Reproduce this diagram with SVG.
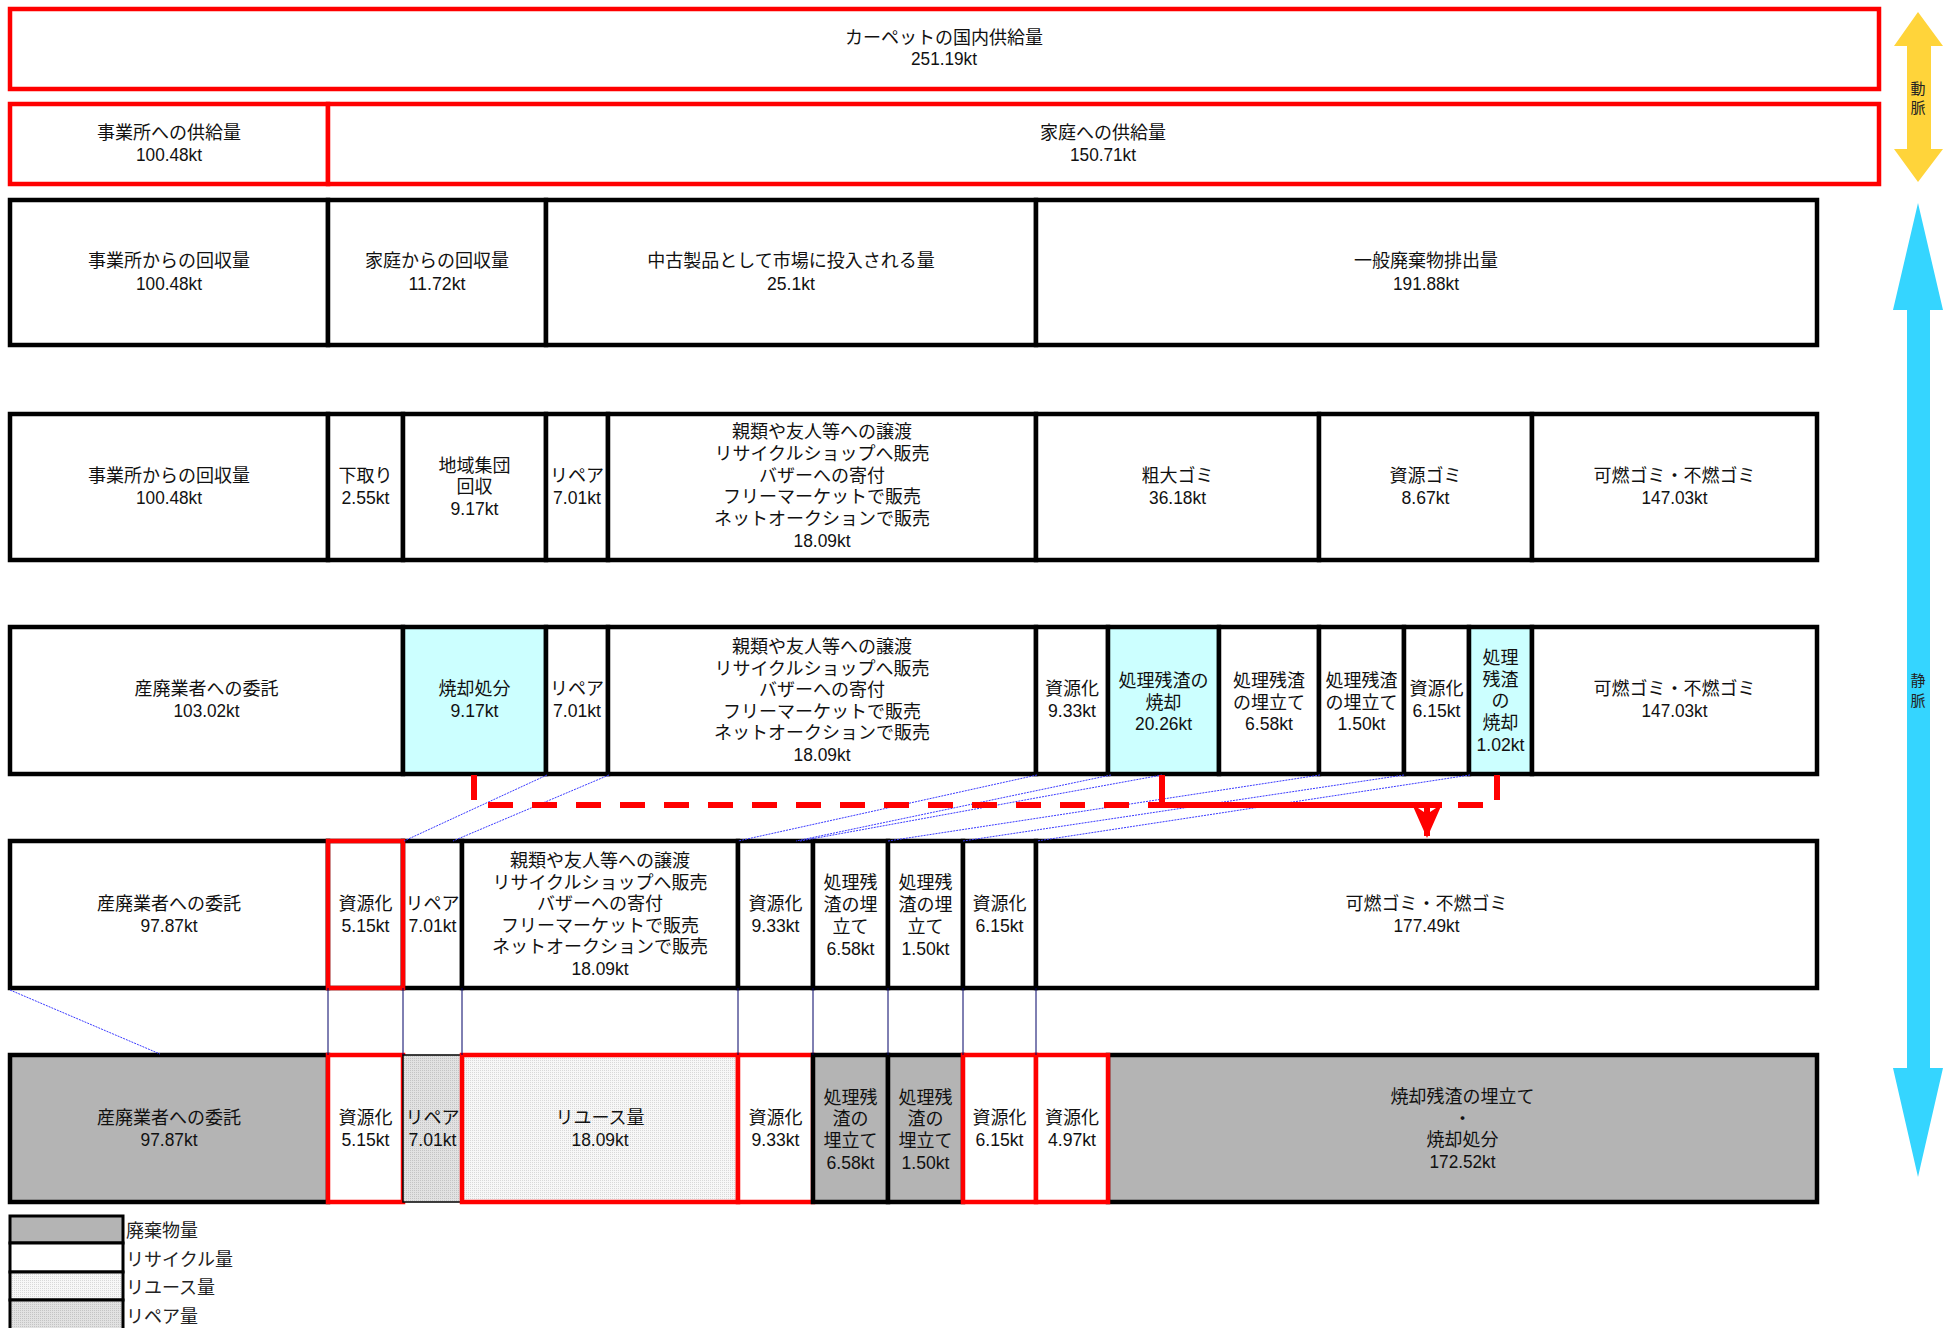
<svg xmlns="http://www.w3.org/2000/svg" width="1955" height="1328" viewBox="0 0 1955 1328">
<style>
.t{font-family:"Liberation Sans","Noto Sans CJK JP","Noto Sans CJK SC",sans-serif;font-size:18px;text-anchor:middle;dominant-baseline:central;fill:#111;transform:translateY(2px)}
.lg{font-family:"Liberation Sans","Noto Sans CJK JP","Noto Sans CJK SC",sans-serif;font-size:18px;dominant-baseline:central;fill:#222;transform:translateY(1px)}
.v{font-family:"Liberation Sans","Noto Sans CJK JP","Noto Sans CJK SC",sans-serif;font-size:15px;text-anchor:middle;dominant-baseline:central;fill:#222}
.b{fill:#fff;stroke:#000;stroke-width:4.5}
.bc{fill:#ccffff;stroke:#000;stroke-width:4.5}
.bg{fill:#b4b4b4;stroke:#000;stroke-width:4.5}
.bu{fill:url(#reuse);stroke:#000;stroke-width:1.5}
.br{fill:url(#repair);stroke:#000;stroke-width:1.5}
.r{fill:#fff;stroke:#ff0000;stroke-width:4.5}
.ro{fill:none;stroke:#ff0000;stroke-width:4.5}
.dot{stroke:#3a3aff;stroke-width:1;stroke-dasharray:2 1;fill:none}
.vl{stroke:#000066;stroke-width:1;fill:none}
.rd{stroke:#ff0000;stroke-width:6;fill:none;stroke-dasharray:25 19}
.rs{stroke:#ff0000;stroke-width:6;fill:none}
</style>
<defs>
<pattern id="reuse" width="2" height="2" patternUnits="userSpaceOnUse"><rect width="2" height="2" fill="#f7f7f7"/><rect width="1" height="1" fill="#d8d8d8"/></pattern>
<pattern id="repair" width="2" height="2" patternUnits="userSpaceOnUse"><rect width="2" height="2" fill="#e2e2e2"/><rect width="1" height="1" fill="#c4c4c4"/></pattern>
<marker id="ah" viewBox="0 0 34 30" refX="32" refY="15" markerWidth="34" markerHeight="30" markerUnits="userSpaceOnUse" orient="auto">
<path d="M0,0 L34,15 L0,30 L10,15 Z" fill="#ff0000"/>
</marker>
</defs>
<rect width="1955" height="1328" fill="#fff"/>

<!-- Row 1 -->
<g id="n-supply-total">
<rect class="r" x="10" y="9" width="1869" height="80"/>
<text class="t" x="944" y="36">カーペットの国内供給量</text>
<text class="t" x="944" y="57" textLength="66" lengthAdjust="spacingAndGlyphs">251.19kt</text>
</g>

<!-- Row 2 -->
<g id="n-supply-office">
<rect class="r" x="10" y="104" width="318" height="80"/>
<text class="t" x="169" y="131">事業所への供給量</text>
<text class="t" x="169" y="153" textLength="66" lengthAdjust="spacingAndGlyphs">100.48kt</text>
</g>
<g id="n-supply-home">
<rect class="r" x="328" y="104" width="1551" height="80"/>
<text class="t" x="1103" y="131">家庭への供給量</text>
<text class="t" x="1103" y="153" textLength="66" lengthAdjust="spacingAndGlyphs">150.71kt</text>
</g>

<!-- Row 3 -->
<g id="n-r3-office">
<rect class="b" x="10" y="200" width="318" height="145"/>
<text class="t" x="169" y="259">事業所からの回収量</text>
<text class="t" x="169" y="282" textLength="66" lengthAdjust="spacingAndGlyphs">100.48kt</text>
</g>
<g id="n-r3-home">
<rect class="b" x="328" y="200" width="218" height="145"/>
<text class="t" x="437" y="259">家庭からの回収量</text>
<text class="t" x="437" y="282" textLength="57" lengthAdjust="spacingAndGlyphs">11.72kt</text>
</g>
<g id="n-r3-used">
<rect class="b" x="546" y="200" width="490" height="145"/>
<text class="t" x="791" y="259">中古製品として市場に投入される量</text>
<text class="t" x="791" y="282" textLength="48" lengthAdjust="spacingAndGlyphs">25.1kt</text>
</g>
<g id="n-r3-general">
<rect class="b" x="1036" y="200" width="781" height="145"/>
<text class="t" x="1426" y="259">一般廃棄物排出量</text>
<text class="t" x="1426" y="282" textLength="66" lengthAdjust="spacingAndGlyphs">191.88kt</text>
</g>

<!-- Row 4 -->
<g id="n-r4-office">
<rect class="b" x="10" y="414" width="318" height="146"/>
<text class="t" x="169" y="474">事業所からの回収量</text>
<text class="t" x="169" y="496" textLength="66" lengthAdjust="spacingAndGlyphs">100.48kt</text>
</g>
<g id="n-r4-tradein">
<rect class="b" x="328" y="414" width="75" height="146"/>
<text class="t" x="365.5" y="474">下取り</text>
<text class="t" x="365.5" y="496" textLength="48" lengthAdjust="spacingAndGlyphs">2.55kt</text>
</g>
<g id="n-r4-community">
<rect class="b" x="403" y="414" width="143" height="146"/>
<text class="t" x="474.5" y="464">地域集団</text>
<text class="t" x="474.5" y="485">回収</text>
<text class="t" x="474.5" y="507" textLength="48" lengthAdjust="spacingAndGlyphs">9.17kt</text>
</g>
<g id="n-r4-repair">
<rect class="b" x="546" y="414" width="62" height="146"/>
<text class="t" x="577" y="474">リペア</text>
<text class="t" x="577" y="496" textLength="48" lengthAdjust="spacingAndGlyphs">7.01kt</text>
</g>
<g id="n-r4-reuse">
<rect class="b" x="608" y="414" width="428" height="146"/>
<text class="t" x="822" y="430">親類や友人等への譲渡</text>
<text class="t" x="822" y="452">リサイクルショップへ販売</text>
<text class="t" x="822" y="474">バザーへの寄付</text>
<text class="t" x="822" y="495">フリーマーケットで販売</text>
<text class="t" x="822" y="517">ネットオークションで販売</text>
<text class="t" x="822" y="539" textLength="57" lengthAdjust="spacingAndGlyphs">18.09kt</text>
</g>
<g id="n-r4-bulky">
<rect class="b" x="1036" y="414" width="283" height="146"/>
<text class="t" x="1177.5" y="474">粗大ゴミ</text>
<text class="t" x="1177.5" y="496" textLength="57" lengthAdjust="spacingAndGlyphs">36.18kt</text>
</g>
<g id="n-r4-resource">
<rect class="b" x="1319" y="414" width="213" height="146"/>
<text class="t" x="1425.5" y="474">資源ゴミ</text>
<text class="t" x="1425.5" y="496" textLength="48" lengthAdjust="spacingAndGlyphs">8.67kt</text>
</g>
<g id="n-r4-burnable">
<rect class="b" x="1532" y="414" width="285" height="146"/>
<text class="t" x="1674.5" y="474">可燃ゴミ・不燃ゴミ</text>
<text class="t" x="1674.5" y="496" textLength="66" lengthAdjust="spacingAndGlyphs">147.03kt</text>
</g>

<!-- Row 5 -->
<g id="n-r5-contract">
<rect class="b" x="10" y="627" width="393" height="147"/>
<text class="t" x="206.5" y="687">産廃業者への委託</text>
<text class="t" x="206.5" y="709" textLength="66" lengthAdjust="spacingAndGlyphs">103.02kt</text>
</g>
<g id="n-r5-incin">
<rect class="bc" x="403" y="627" width="143" height="147"/>
<text class="t" x="474.5" y="687">焼却処分</text>
<text class="t" x="474.5" y="709" textLength="48" lengthAdjust="spacingAndGlyphs">9.17kt</text>
</g>
<g id="n-r5-repair">
<rect class="b" x="546" y="627" width="62" height="147"/>
<text class="t" x="577" y="687">リペア</text>
<text class="t" x="577" y="709" textLength="48" lengthAdjust="spacingAndGlyphs">7.01kt</text>
</g>
<g id="n-r5-reuse">
<rect class="b" x="608" y="627" width="428" height="147"/>
<text class="t" x="822" y="645">親類や友人等への譲渡</text>
<text class="t" x="822" y="667">リサイクルショップへ販売</text>
<text class="t" x="822" y="688">バザーへの寄付</text>
<text class="t" x="822" y="710">フリーマーケットで販売</text>
<text class="t" x="822" y="731">ネットオークションで販売</text>
<text class="t" x="822" y="753" textLength="57" lengthAdjust="spacingAndGlyphs">18.09kt</text>
</g>
<g id="n-r5-res1">
<rect class="b" x="1036" y="627" width="72" height="147"/>
<text class="t" x="1072" y="687">資源化</text>
<text class="t" x="1072" y="709" textLength="48" lengthAdjust="spacingAndGlyphs">9.33kt</text>
</g>
<g id="n-r5-resinc1">
<rect class="bc" x="1108" y="627" width="111" height="147"/>
<text class="t" x="1163.5" y="679">処理残渣の</text>
<text class="t" x="1163.5" y="701">焼却</text>
<text class="t" x="1163.5" y="722" textLength="57" lengthAdjust="spacingAndGlyphs">20.26kt</text>
</g>
<g id="n-r5-land1">
<rect class="b" x="1219" y="627" width="100" height="147"/>
<text class="t" x="1269" y="679">処理残渣</text>
<text class="t" x="1269" y="701">の埋立て</text>
<text class="t" x="1269" y="722" textLength="48" lengthAdjust="spacingAndGlyphs">6.58kt</text>
</g>
<g id="n-r5-land2">
<rect class="b" x="1319" y="627" width="85" height="147"/>
<text class="t" x="1361.5" y="679">処理残渣</text>
<text class="t" x="1361.5" y="701">の埋立て</text>
<text class="t" x="1361.5" y="722" textLength="48" lengthAdjust="spacingAndGlyphs">1.50kt</text>
</g>
<g id="n-r5-res2">
<rect class="b" x="1404" y="627" width="65" height="147"/>
<text class="t" x="1436.5" y="687">資源化</text>
<text class="t" x="1436.5" y="709" textLength="48" lengthAdjust="spacingAndGlyphs">6.15kt</text>
</g>
<g id="n-r5-resinc2">
<rect class="bc" x="1469" y="627" width="63" height="147"/>
<text class="t" x="1500.5" y="656">処理</text>
<text class="t" x="1500.5" y="678">残渣</text>
<text class="t" x="1500.5" y="699">の</text>
<text class="t" x="1500.5" y="721">焼却</text>
<text class="t" x="1500.5" y="743" textLength="48" lengthAdjust="spacingAndGlyphs">1.02kt</text>
</g>
<g id="n-r5-burnable">
<rect class="b" x="1532" y="627" width="285" height="147"/>
<text class="t" x="1674.5" y="687">可燃ゴミ・不燃ゴミ</text>
<text class="t" x="1674.5" y="709" textLength="66" lengthAdjust="spacingAndGlyphs">147.03kt</text>
</g>

<!-- Row 6 -->
<g id="n-r6-contract">
<rect class="b" x="10" y="841" width="318" height="147"/>
<text class="t" x="169" y="902">産廃業者への委託</text>
<text class="t" x="169" y="924" textLength="57" lengthAdjust="spacingAndGlyphs">97.87kt</text>
</g>
<g id="n-r6-res1">
<rect class="b" x="328" y="841" width="75" height="147"/>
<text class="t" x="365.5" y="902">資源化</text>
<text class="t" x="365.5" y="924" textLength="48" lengthAdjust="spacingAndGlyphs">5.15kt</text>
</g>
<g id="n-r6-repair">
<rect class="b" x="403" y="841" width="59" height="147"/>
<text class="t" x="432.5" y="902">リペア</text>
<text class="t" x="432.5" y="924" textLength="48" lengthAdjust="spacingAndGlyphs">7.01kt</text>
</g>
<g id="n-r6-reuse">
<rect class="b" x="462" y="841" width="276" height="147"/>
<text class="t" x="600" y="859">親類や友人等への譲渡</text>
<text class="t" x="600" y="881">リサイクルショップへ販売</text>
<text class="t" x="600" y="902">バザーへの寄付</text>
<text class="t" x="600" y="924">フリーマーケットで販売</text>
<text class="t" x="600" y="945">ネットオークションで販売</text>
<text class="t" x="600" y="967" textLength="57" lengthAdjust="spacingAndGlyphs">18.09kt</text>
</g>
<g id="n-r6-res2">
<rect class="b" x="738" y="841" width="75" height="147"/>
<text class="t" x="775.5" y="902">資源化</text>
<text class="t" x="775.5" y="924" textLength="48" lengthAdjust="spacingAndGlyphs">9.33kt</text>
</g>
<g id="n-r6-land1">
<rect class="b" x="813" y="841" width="75" height="147"/>
<text class="t" x="850.5" y="881">処理残</text>
<text class="t" x="850.5" y="903">渣の埋</text>
<text class="t" x="850.5" y="925">立て</text>
<text class="t" x="850.5" y="947" textLength="48" lengthAdjust="spacingAndGlyphs">6.58kt</text>
</g>
<g id="n-r6-land2">
<rect class="b" x="888" y="841" width="75" height="147"/>
<text class="t" x="925.5" y="881">処理残</text>
<text class="t" x="925.5" y="903">渣の埋</text>
<text class="t" x="925.5" y="925">立て</text>
<text class="t" x="925.5" y="947" textLength="48" lengthAdjust="spacingAndGlyphs">1.50kt</text>
</g>
<g id="n-r6-res3">
<rect class="b" x="963" y="841" width="73" height="147"/>
<text class="t" x="999.5" y="902">資源化</text>
<text class="t" x="999.5" y="924" textLength="48" lengthAdjust="spacingAndGlyphs">6.15kt</text>
</g>
<g id="n-r6-burnable">
<rect class="b" x="1036" y="841" width="781" height="147"/>
<text class="t" x="1426.5" y="902">可燃ゴミ・不燃ゴミ</text>
<text class="t" x="1426.5" y="924" textLength="66" lengthAdjust="spacingAndGlyphs">177.49kt</text>
</g>
<rect class="ro" x="328" y="841" width="75" height="147"/>

<!-- Row 7 -->
<g id="n-r7-contract">
<rect class="bg" x="10" y="1055" width="318" height="147"/>
<text class="t" x="169" y="1116">産廃業者への委託</text>
<text class="t" x="169" y="1138" textLength="57" lengthAdjust="spacingAndGlyphs">97.87kt</text>
</g>
<g id="n-r7-res1">
<rect class="r" x="328" y="1055" width="75" height="147"/>
<text class="t" x="365.5" y="1116">資源化</text>
<text class="t" x="365.5" y="1138" textLength="48" lengthAdjust="spacingAndGlyphs">5.15kt</text>
</g>
<g id="n-r7-repair">
<rect class="br" x="403" y="1055" width="59" height="147"/>
<text class="t" x="432.5" y="1116">リペア</text>
<text class="t" x="432.5" y="1138" textLength="48" lengthAdjust="spacingAndGlyphs">7.01kt</text>
</g>
<g id="n-r7-reuse">
<rect class="bu" x="462" y="1055" width="276" height="147"/>
<rect class="ro" x="462" y="1055" width="276" height="147"/>
<text class="t" x="600" y="1116">リユース量</text>
<text class="t" x="600" y="1138" textLength="57" lengthAdjust="spacingAndGlyphs">18.09kt</text>
</g>
<g id="n-r7-res2">
<rect class="r" x="738" y="1055" width="75" height="147"/>
<text class="t" x="775.5" y="1116">資源化</text>
<text class="t" x="775.5" y="1138" textLength="48" lengthAdjust="spacingAndGlyphs">9.33kt</text>
</g>
<g id="n-r7-land1">
<rect class="bg" x="813" y="1055" width="75" height="147"/>
<text class="t" x="850.5" y="1096">処理残</text>
<text class="t" x="850.5" y="1117">渣の</text>
<text class="t" x="850.5" y="1139">埋立て</text>
<text class="t" x="850.5" y="1161" textLength="48" lengthAdjust="spacingAndGlyphs">6.58kt</text>
</g>
<g id="n-r7-land2">
<rect class="bg" x="888" y="1055" width="75" height="147"/>
<text class="t" x="925.5" y="1096">処理残</text>
<text class="t" x="925.5" y="1117">渣の</text>
<text class="t" x="925.5" y="1139">埋立て</text>
<text class="t" x="925.5" y="1161" textLength="48" lengthAdjust="spacingAndGlyphs">1.50kt</text>
</g>
<g id="n-r7-final">
<rect class="bg" x="1108" y="1055" width="709" height="147"/>
<text class="t" x="1462.5" y="1095">焼却残渣の埋立て</text>
<text class="t" x="1462.5" y="1117">・</text>
<text class="t" x="1462.5" y="1138">焼却処分</text>
<text class="t" x="1462.5" y="1160" textLength="66" lengthAdjust="spacingAndGlyphs">172.52kt</text>
</g>
<g id="n-r7-res3">
<rect class="r" x="963" y="1055" width="73" height="147"/>
<text class="t" x="999.5" y="1116">資源化</text>
<text class="t" x="999.5" y="1138" textLength="48" lengthAdjust="spacingAndGlyphs">6.15kt</text>
</g>
<g id="n-r7-res4">
<rect class="r" x="1036" y="1055" width="72" height="147"/>
<text class="t" x="1072" y="1116">資源化</text>
<text class="t" x="1072" y="1138" textLength="48" lengthAdjust="spacingAndGlyphs">4.97kt</text>
</g>

<!-- Legend -->
<g id="legend">
<rect x="10" y="1216" width="113" height="27" fill="#b4b4b4" stroke="#000" stroke-width="3"/>
<rect x="10" y="1243" width="113" height="29" fill="#fff" stroke="#000" stroke-width="3"/>
<rect x="10" y="1272" width="113" height="28" fill="url(#reuse)" stroke="#000" stroke-width="3"/>
<rect x="10" y="1300" width="113" height="32" fill="url(#repair)" stroke="#000" stroke-width="3"/>
<text class="lg" x="126" y="1230">廃棄物量</text>
<text class="lg" x="126" y="1259">リサイクル量</text>
<text class="lg" x="126" y="1287">リユース量</text>
<text class="lg" x="126" y="1316">リペア量</text>
</g>

<!-- Side arrows -->
<g id="arrow-artery">
<polygon points="1918,12 1943,46 1931,46 1931,149 1943,149 1918,182 1894,149 1907,149 1907,46 1894,46" fill="#ffd43a"/>
<text class="v" x="1918" y="88">動</text>
<text class="v" x="1918" y="107">脈</text>
</g>
<g id="arrow-vein">
<polygon points="1918,203 1943,310 1930,310 1930,1068 1943,1068 1918,1177 1893,1068 1907,1068 1907,310 1893,310" fill="#35d5ff"/>
<text class="v" x="1918" y="680">静</text>
<text class="v" x="1918" y="700">脈</text>
</g>

<!-- Connectors -->
<g id="connectors">
<line class="dot" x1="547" y1="775" x2="404" y2="841"/>
<line class="dot" x1="609" y1="775" x2="453" y2="841"/>
<line class="dot" x1="1037" y1="775" x2="738" y2="841"/>
<line class="dot" x1="1111" y1="775" x2="796" y2="841"/>
<line class="dot" x1="1162" y1="775" x2="800" y2="841"/>
<line class="dot" x1="1320" y1="775" x2="888" y2="841"/>
<line class="dot" x1="1404" y1="775" x2="963" y2="841"/>
<line class="dot" x1="1470" y1="775" x2="1037" y2="841"/>
<line class="dot" x1="10" y1="990" x2="160" y2="1054"/>
<line class="vl" x1="328" y1="988" x2="328" y2="1055"/>
<line class="vl" x1="403" y1="988" x2="403" y2="1055"/>
<line class="vl" x1="462" y1="988" x2="462" y2="1055"/>
<line class="vl" x1="738" y1="988" x2="738" y2="1055"/>
<line class="vl" x1="813" y1="988" x2="813" y2="1055"/>
<line class="vl" x1="888" y1="988" x2="888" y2="1055"/>
<line class="vl" x1="963" y1="988" x2="963" y2="1055"/>
<line class="vl" x1="1036" y1="988" x2="1036" y2="1055"/>
<path class="rd" d="M474,775 V805 H1427"/>
<path class="rd" d="M1497,775 V805 H1427"/>
<path class="rs" d="M1162,775 V805 H1442"/>
<path class="rs" d="M1427,805 V836" marker-end="url(#ah)"/>
</g>
</svg>
